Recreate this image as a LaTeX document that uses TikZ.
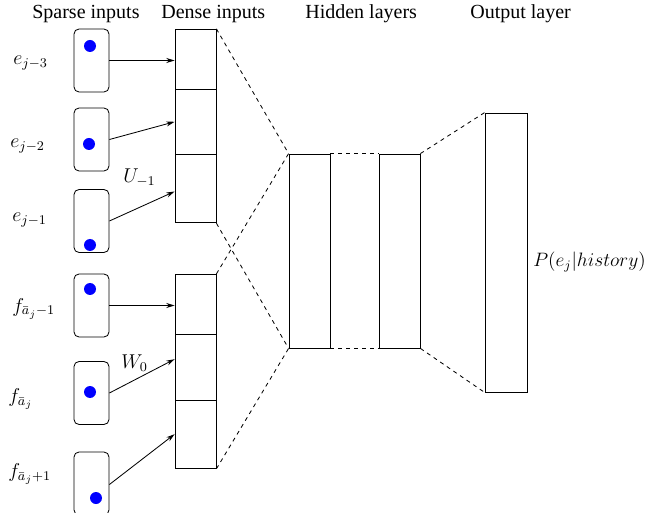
\documentclass[tikz,border=0pt]{standalone}
\usepackage{fontspec}
\setmainfont{Liberation Serif}
\usetikzlibrary{arrows.meta}
\begin{document}
\begin{tikzpicture}[x=0.6pt,y=-0.6pt,
  font=\fontsize{12}{14}\selectfont,
  sparse/.style={draw,rounded corners=3pt,minimum width=21pt,minimum height=37.8pt,inner sep=0pt,line width=0.5pt},
  dot/.style={circle,fill=blue,minimum size=7.2pt,inner sep=0pt},
  cell/.style={draw,minimum width=24.6pt,inner sep=0pt,line width=0.5pt},
  layer/.style={draw,minimum width=24.6pt,inner sep=0pt,line width=0.5pt},
  feed/.style={-{Stealth[length=5pt,width=3pt]},line width=0.5pt},
  fan/.style={dash pattern=on 2.4pt off 2.4pt,line width=0.5pt},
  lbl/.style={anchor=base west,inner sep=0pt}]
\useasboundingbox (0,0) rectangle (648,513);
\clip (0,0) rectangle (648,513);

% column headings
\node[lbl] (hs) at (32,19) {Sparse inputs};
\node[lbl] (hd) at (161,19) {Dense inputs};
\node[lbl] (hh) at (305,19) {Hidden layers};
\node[lbl] (ho) at (470,19) {Output layer};

% sparse one-hot inputs
\node[sparse] (s1) at (91.5,60.5) {};
\node[sparse] (s2) at (91.5,139.5) {};
\node[sparse] (s3) at (91.5,221) {};
\node[sparse] (s4) at (91.5,305.5) {};
\node[sparse] (s5) at (91.5,393) {};
\node[sparse] (s6) at (91.5,483.5) {};
\node[dot] (d1) at (90,46) {};
\node[dot] (d2) at (89,144) {};
\node[dot] (d3) at (90,245) {};
\node[dot] (d4) at (90,289) {};
\node[dot] (d5) at (90,392) {};
\node[dot] (d6) at (96,498) {};

% input labels
\node[lbl] (le3) at (13,65) {$e_{j-3}$};
\node[lbl] (le2) at (10,148) {$e_{j-2}$};
\node[lbl] (le1) at (12,222) {$e_{j-1}$};
\node[lbl] (lf1) at (12,312) {$f_{\bar{a}_j-1}$};
\node[lbl] (lf2) at (8,402) {$f_{\bar{a}_j}$};
\node[lbl] (lf3) at (8,477) {$f_{\bar{a}_j+1}$};

% dense embedding columns
\node[cell,minimum height=36pt] (u1) at (195.5,59.3) {};
\node[cell,minimum height=39pt] (u2) at (195.5,121.8) {};
\node[cell,minimum height=41.2pt] (u3) at (195.5,188.5) {};
\node[cell,minimum height=36pt] (l1) at (195.5,304.3) {};
\node[cell,minimum height=39.4pt] (l2) at (195.5,367.2) {};
\node[cell,minimum height=41pt] (l3) at (195.5,434.2) {};

% projections
\draw[feed] (s1.east) -- (s1.east -| u1.west);
\draw[feed] (s2.east) -- (u2.west);
\draw[feed] (s3.east) -- ([yshift=-1.8pt]u3.west);
\draw[feed] (s4.east) -- (s4.east -| l1.west);
\draw[feed] (s5.east) -- ([yshift=4.8pt]l2.west);
\draw[feed] ([yshift=-0.6pt]s6.east) -- (l3.west);
\node[lbl] (wu) at (123,183) {$U_{-1}$};
\node[lbl] (ww) at (121,368) {$W_0$};

% hidden and output layers
\node[layer,minimum height=116.4pt] (h1) at (309.5,251) {};
\node[layer,minimum height=116.4pt] (h2) at (399.5,251) {};
\node[layer,minimum width=25.2pt,minimum height=167.4pt] (out) at (506,252.5) {};
\node[lbl,scale=0.97] (lp) at (533,267) {$P(e_j|history)$};

% fan-in / fan-out
\draw[fan] (u1.north east) -- (h1.north west);
\draw[fan] (u3.south east) -- (h1.south west);
\draw[fan] (l1.north east) -- (h1.north west);
\draw[fan] (l3.south east) -- (h1.south west);
\draw[fan] (h1.north east) -- (h2.north west);
\draw[fan] (h1.south east) -- (h2.south west);
\draw[fan] (h2.north east) -- (out.north west);
\draw[fan] (h2.south east) -- (out.south west);
\end{tikzpicture}
\end{document}
